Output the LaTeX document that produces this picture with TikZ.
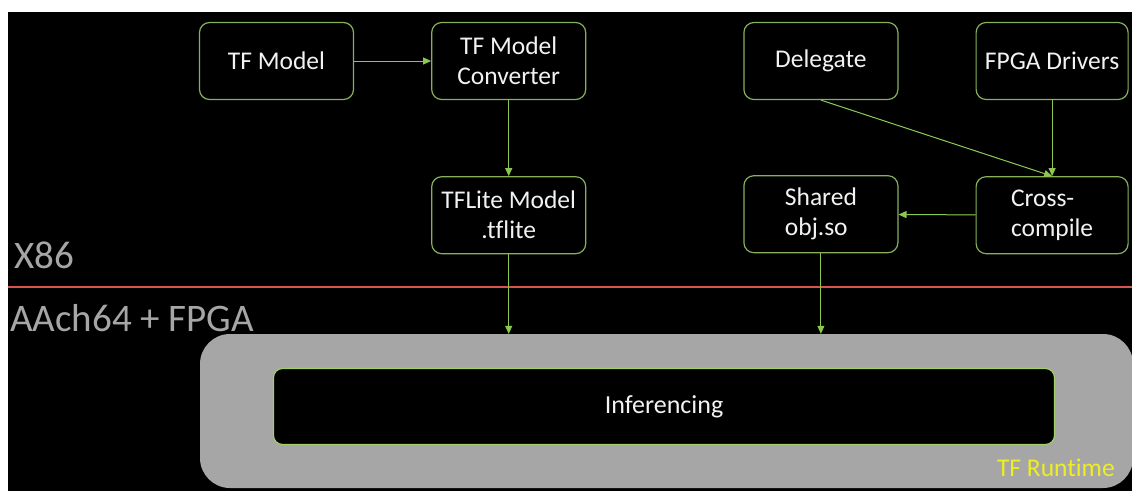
\documentclass[tikz,border=0pt]{standalone}
\usepackage{fontspec}
\setmainfont{Carlito}[Ligatures=CommonOff]
\usetikzlibrary{arrows.meta,positioning}
\definecolor{boxline}{HTML}{86B05A}
\definecolor{arrowgreen}{HTML}{8CC850}
\definecolor{infline}{HTML}{A2CF6A}
\definecolor{softtext}{HTML}{F2F2F2}
\definecolor{platform}{HTML}{A6A6A6}
\definecolor{divider}{HTML}{D9534F}
\definecolor{rtyellow}{HTML}{EEEE22}
\tikzset{
  box/.style={
    draw=boxline, line width=1.2pt, fill=black, rounded corners=10pt,
    minimum width=154pt, minimum height=77pt, inner sep=2pt,
    align=center, text=softtext, font=\fontsize{25.5}{30}\selectfont
  },
  runtime/.style={
    fill=platform, rounded corners=30pt,
    minimum width=933pt, minimum height=154pt, inner sep=0pt
  },
  infbox/.style={
    draw=infline, line width=1.2pt, fill=black, rounded corners=9pt,
    minimum width=781pt, minimum height=76pt,
    text=softtext, font=\fontsize{26}{30}\selectfont
  },
  archlabel/.style={text=platform, inner sep=0pt, font=\fontsize{39}{44}\selectfont},
  arrow/.style={-{Triangle[length=8pt,width=7pt]}, line width=1pt, draw=arrowgreen, fill=arrowgreen}
}
\begin{document}
\begin{tikzpicture}[x=1pt, y=-1pt]
  \useasboundingbox (0,0) rectangle (1132,491);
  \fill[white] (0,0) rectangle (1132,491);
  \fill[black] (8,12) rectangle (1132,491);

  % host side
  \node[box] (tfm) at (276.5,61) {TF Model};
  \node[box, right=77pt of tfm] (conv) {TF Model\\Converter};
  \node[box, right=157pt of conv] (deleg) {Delegate};
  \node[box, right=77pt of deleg, minimum width=152pt] (drv) {FPGA Drivers};
  \node[box, below=76pt of conv] (tflite) {TFLite Model\\.tflite};
  \node[box, below=75pt of deleg, align=left] (shared) {Shared\\obj.so};
  \node[box, below=76pt of drv, minimum width=152pt, align=left] (cross) {Cross-\\compile};

  % platforms
  \node[archlabel, anchor=base west] (x86) at (14,268) {X86};
  \draw[divider, line width=1.5pt] (8,287) -- (1132,287);
  \node[archlabel, anchor=base west] (aarch) at (10,331) {AAch64 + FPGA};

  % target side
  \node[runtime] (rt) at (666.5,411) {};
  \node[infbox] (infer) at (664,406.5) {Inferencing};
  \node[anchor=base east, inner sep=0pt, text=rtyellow, font=\fontsize{25.5}{30}\selectfont] (rtlabel) at (1115,476) {TF Runtime};

  \draw[arrow] (tfm) -- (conv);
  \draw[arrow] (conv) -- (tflite);
  \draw[arrow] (deleg.south) -- (cross.north);
  \draw[arrow] (drv) -- (cross);
  \draw[arrow] (cross) -- (shared);
  \draw[arrow] (tflite.south) -- (tflite.south |- rt.north);
  \draw[arrow] (shared.south) -- (shared.south |- rt.north);
\end{tikzpicture}
\end{document}
